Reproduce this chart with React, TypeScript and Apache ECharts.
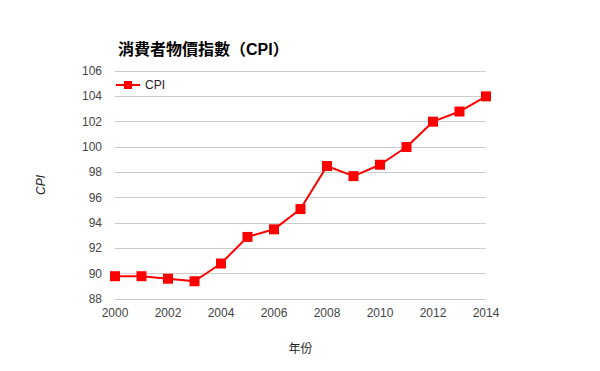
import React, { useEffect, useRef } from "react";
import * as echarts from "echarts";

const years = [2000, 2001, 2002, 2003, 2004, 2005, 2006, 2007, 2008, 2009, 2010, 2011, 2012, 2013, 2014];
const cpiValues = [89.8, 89.8, 89.6, 89.4, 90.8, 92.9, 93.5, 95.1, 98.5, 97.7, 98.6, 100.0, 102.0, 102.8, 104.0];
const titleText = "消費者物價指數（CPI）";
const seriesName = "CPI";
const xAxisName = "年份";
const yAxisName = "CPI";

const FONT = "Arial, 'Liberation Sans', 'Noto Sans CJK TC', sans-serif";

export default function App() {
  const ref = useRef<HTMLDivElement>(null);
  useEffect(() => {
    if (!ref.current) return;
    const chart = echarts.init(ref.current, undefined, { renderer: "svg" });
    chart.setOption({
      animation: false,
      backgroundColor: "#ffffff",
      textStyle: { fontFamily: FONT },
      title: {
        text: titleText,
        left: 113,
        top: 36,
        textStyle: { fontSize: 16, fontWeight: "bold", color: "#000", fontFamily: FONT },
      },
      legend: {
        data: [seriesName],
        left: 115,
        top: 79,
        padding: 0,
        itemWidth: 24,
        itemHeight: 10,
        itemGap: 6,
        textStyle: { fontSize: 12, color: "#222", fontFamily: FONT },
      },
      grid: { left: 115, right: 114, top: 71, bottom: 72, containLabel: false },
      xAxis: {
        type: "value",
        min: 2000,
        max: 2014,
        interval: 2,
        name: xAxisName,
        nameLocation: "middle",
        nameGap: 44,
        nameTextStyle: { fontSize: 12, color: "#222", fontFamily: FONT },
        axisLine: { show: false },
        axisTick: { show: false },
        splitLine: { show: false },
        axisLabel: { fontSize: 12, color: "#444", margin: 8, fontFamily: FONT, formatter: (v: number) => String(v) },
      },
      yAxis: {
        type: "value",
        min: 88,
        max: 106,
        interval: 2,
        name: yAxisName,
        nameLocation: "middle",
        nameGap: 68,
        nameTextStyle: { fontSize: 12, color: "#222", fontStyle: "italic", fontFamily: FONT },
        axisLine: { show: false },
        axisTick: { show: false },
        splitLine: { show: true, lineStyle: { color: "#cccccc", width: 1 } },
        axisLabel: { fontSize: 12, color: "#444", margin: 13, fontFamily: FONT },
      },
      series: [
        {
          name: seriesName,
          type: "line",
          data: years.map((y, i) => [y, cpiValues[i]]),
          symbol: "rect",
          symbolSize: 10,
          lineStyle: { color: "#ff0000", width: 2 },
          itemStyle: { color: "#ff0000" },
          color: "#ff0000",
        },
      ],
    });
    return () => chart.dispose();
  }, []);
  return <div ref={ref} style={{ width: 600, height: 371, position: "absolute", left: 0, top: 0 }} />;
}
